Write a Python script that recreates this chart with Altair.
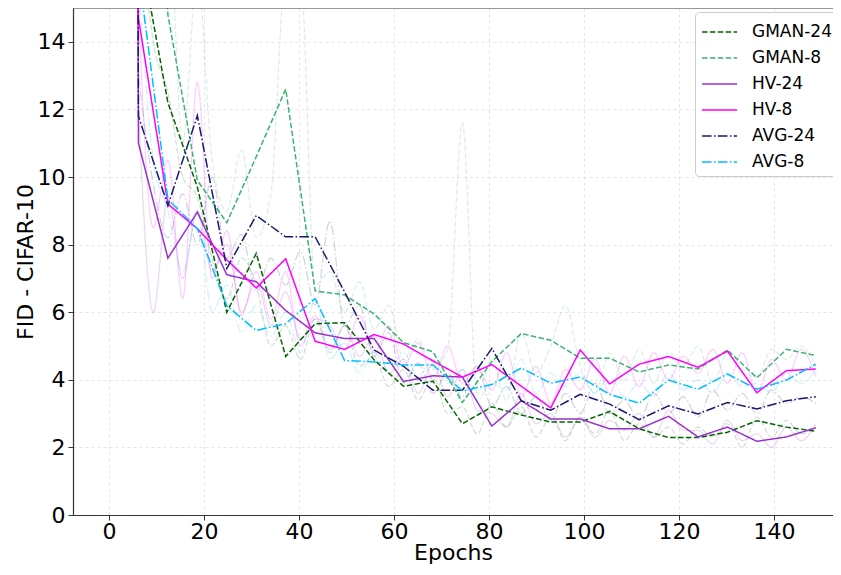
import altair as alt
import pandas as pd

# ---- main (sampled) curves ----
epochs = [0, 6.2, 12.4, 18.6, 24.8, 31.0, 37.2, 43.4, 49.6, 55.8, 62.0, 68.2,
          74.4, 80.6, 86.8, 93.0, 99.2, 105.4, 111.6, 117.8, 124.0, 130.2,
          136.4, 142.6, 148.8]

series_names = ["GMAN-24", "GMAN-8", "HV-24", "HV-8", "AVG-24", "AVG-8"]

gman24 = [250, 17.0, 12.2, 9.7, 6.0, 7.74, 4.69, 5.66, 5.69, 4.59, 3.81, 3.96,
          2.70, 3.20, 2.96, 2.75, 2.75, 3.06, 2.55, 2.29, 2.29, 2.45, 2.79, 2.60, 2.48]
gman8 = [250, 30.0, 14.8, 9.9, 8.65, 10.6, 12.6, 6.63, 6.51, 5.95, 5.1, 4.83,
         3.33, 4.54, 5.37, 5.17, 4.64, 4.64, 4.23, 4.44, 4.32, 4.88, 4.06, 4.90, 4.72]
hv24 = [250, 11.0, 7.6, 8.96, 7.11, 6.90, 6.05, 5.39, 5.22, 5.22, 3.95, 4.12,
        4.08, 2.63, 3.38, 2.84, 2.84, 2.55, 2.55, 2.92, 2.31, 2.60, 2.18, 2.31, 2.58]
hv8 = [250, 14.7, 9.2, 8.47, 7.55, 6.72, 7.58, 5.14, 4.90, 5.34, 5.06, 4.56,
       4.08, 4.45, 3.81, 3.17, 4.88, 3.88, 4.46, 4.69, 4.37, 4.85, 3.62, 4.27, 4.32]
avg24 = [250, 11.8, 9.15, 11.82, 7.3, 8.86, 8.23, 8.23, 6.6, 4.88, 4.40, 3.69,
         3.69, 4.93, 3.38, 3.10, 3.57, 3.28, 2.82, 3.23, 2.99, 3.33, 3.14, 3.38, 3.50]
avg8 = [250, 16.1, 9.34, 8.47, 6.19, 5.46, 5.66, 6.40, 4.57, 4.53, 4.44, 4.44,
        3.67, 3.86, 4.35, 3.90, 4.08, 3.57, 3.31, 3.99, 3.72, 4.17, 3.72, 3.99, 4.46]

# ---- faint (raw) curves ----
raw_epochs = [6.2, 9.3, 12.4, 15.5, 18.6, 21.7, 24.8, 27.9, 31.0, 34.1, 37.2, 40.3,
              43.4, 46.5, 49.6, 52.7, 55.8, 58.9, 62.0, 65.1, 68.2, 71.3, 74.4, 77.5,
              80.6, 83.7, 86.8, 89.9, 93.0, 96.1, 99.2, 102.3, 105.4, 108.5, 111.6,
              114.7, 117.8, 120.9, 124.0, 127.1, 130.2, 133.3, 136.4, 139.5, 142.6,
              145.7, 148.8]
raw_gman24 = [18, 14, 12.5, 10, 9.4, 7.6, 6.4, 7.6, 6.8, 5.0, 5.6, 4.6, 5.8, 4.8, 5.6,
              4.4, 4.7, 3.8, 4.3, 3.4, 4.1, 3.0, 3.2, 2.4, 3.3, 2.6, 3.2, 2.3, 2.9, 2.2,
              2.9, 2.4, 3.1, 2.2, 2.7, 2.3, 2.6, 2.1, 2.6, 2.3, 2.7, 2.0, 2.9, 2.3, 2.8,
              2.4, 2.6]
raw_gman8 = [20, 16, 18, 11, 16, 10.5, 9, 10.8, 8.2, 9.5, 16, 16, 6.8, 7.2, 6.0, 6.9,
             5.5, 6.2, 4.6, 5.2, 4.3, 4.9, 11.6, 3.6, 4.6, 3.4, 5.4, 4.2, 5.0, 6.2,
             4.4, 3.6, 4.8, 4.0, 4.9, 3.9, 4.8, 4.4, 5.0, 3.9, 4.8, 4.2, 4.1, 4.9, 4.6,
             5.0, 4.4]
raw_hv24 = [12, 6.0, 9.4, 7.0, 9.0, 7.2, 8.0, 6.0, 6.9, 5.6, 6.6, 5.2, 5.9, 4.9, 5.6,
            4.7, 5.3, 4.2, 4.6, 3.6, 4.5, 3.5, 4.3, 3.1, 3.0, 2.6, 3.6, 2.7, 3.0, 2.3,
            2.9, 2.3, 2.8, 2.5, 3.0, 2.3, 3.1, 2.5, 2.5, 2.1, 2.8, 2.2, 2.4, 2.0, 2.6,
            2.2, 2.7]
raw_hv8 = [15, 8.5, 10.5, 6.4, 12.8, 7.0, 8.4, 5.9, 7.2, 5.8, 7.2, 5.0, 5.8, 5.6, 4.9,
           5.9, 4.8, 5.6, 4.4, 5.1, 4.0, 5.0, 3.9, 4.4, 3.7, 4.8, 3.5, 4.4, 3.3, 4.3,
           3.7, 4.6, 3.6, 4.7, 3.8, 4.8, 4.0, 4.7, 4.2, 4.9, 3.9, 4.8, 3.6, 4.6, 4.0,
           4.9, 4.1]
raw_avg24 = [13, 9.8, 8.2, 9.5, 8.0, 10.0, 7.6, 8.3, 6.6, 7.6, 6.8, 7.8, 6.2, 8.7, 5.6,
             6.2, 4.7, 5.4, 3.9, 4.5, 3.6, 4.2, 3.5, 4.4, 3.2, 3.8, 3.0, 3.5, 2.8, 3.6,
             3.0, 3.9, 3.0, 3.4, 2.8, 3.6, 3.0, 3.5, 2.9, 3.7, 3.1, 3.6, 3.0, 3.7, 3.3,
             3.5, 3.3]
raw_avg8 = [16, 10.5, 9.0, 7.2, 9.0, 6.0, 6.8, 5.4, 6.2, 5.3, 6.0, 4.8, 6.4, 4.6, 5.1,
            4.2, 4.8, 4.3, 4.8, 4.1, 4.6, 3.9, 4.3, 3.4, 3.9, 3.7, 4.6, 3.6, 4.2, 3.8,
            4.2, 3.6, 4.1, 3.5, 3.9, 3.5, 4.2, 3.7, 4.0, 3.6, 4.2, 3.8, 3.9, 3.6, 4.2,
            3.9, 4.3]

x_ticks = [0, 20, 40, 60, 80, 100, 120, 140]
y_ticks = [0, 2, 4, 6, 8, 10, 12, 14]

colors = ["#006400", "#3cb371", "#9932cc", "#ff00ff", "#191970", "#00bfff"]
dashes = [[5.5, 2.4], [5.5, 2.4], [1, 0], [1, 0], [9.6, 2.4, 1.5, 2.4], [9.6, 2.4, 1.5, 2.4]]

main_vals = [gman24, gman8, hv24, hv8, avg24, avg8]
raw_vals = [raw_gman24, raw_gman8, raw_hv24, raw_hv8, raw_avg24, raw_avg8]

rows = []
for name, vals in zip(series_names, main_vals):
    for e, v in zip(epochs, vals):
        rows.append({"series": name, "epoch": e, "fid": v})
df = pd.DataFrame(rows)

raw_rows = []
for name, vals in zip(series_names, raw_vals):
    for e, v in zip(raw_epochs, vals):
        raw_rows.append({"series": name, "epoch": e, "fid": v})
raw_df = pd.DataFrame(raw_rows)

FONT = "DejaVu Sans"
W, H = 760, 507

x_scale = alt.Scale(domain=[-7.58, 152.42], nice=False, zero=False)
y_scale = alt.Scale(domain=[0, 15], nice=False, zero=False)
color_scale = alt.Scale(domain=series_names, range=colors)
dash_scale = alt.Scale(domain=series_names, range=dashes)

legend = alt.Legend(
    title=None, orient="none", legendX=622, legendY=4,
    labelFont=FONT, labelFontSize=17, labelColor="#000000",
    symbolType="M-1,0L1.7,0", symbolSize=676, symbolStrokeWidth=1.5, symbolOpacity=1,
    labelOffset=23, rowPadding=4, padding=6,
    strokeColor="#cccccc", fillColor="rgba(255,255,255,0.85)", cornerRadius=4,
)

x_enc = alt.X("epoch:Q", scale=x_scale,
              axis=alt.Axis(values=x_ticks, title="Epochs", format="d"))
y_enc = alt.Y("fid:Q", scale=y_scale,
              axis=alt.Axis(values=y_ticks, title="FID - CIFAR-10", format="d"))

faint = alt.Chart(raw_df).mark_line(strokeWidth=1.2, strokeOpacity=0.2, clip=True,
                                    interpolate="monotone").encode(
    x=x_enc, y=y_enc,
    color=alt.Color("series:N", scale=color_scale, legend=legend),
    strokeDash=alt.StrokeDash("series:N", scale=dash_scale, legend=legend),
    order=alt.Order("epoch:Q"),
)

lines = alt.Chart(df).mark_line(strokeWidth=1.5, clip=True).encode(
    x=x_enc, y=y_enc,
    color=alt.Color("series:N", scale=color_scale, legend=legend),
    strokeDash=alt.StrokeDash("series:N", scale=dash_scale, legend=legend),
    order=alt.Order("epoch:Q"),
)

top_spine = alt.Chart(pd.DataFrame({"k": [0]})).mark_rule(color="#333333", strokeWidth=1.2).encode(
    x=alt.value(0), x2=alt.value(W), y=alt.value(0)
)

chart = alt.layer(faint, lines, top_spine).properties(
    width=W, height=H,
    padding={"left": 65, "top": 0, "right": 0, "bottom": 52},
    autosize=alt.AutoSizeParams(type="none"),
).configure_view(stroke=None).configure_axis(
    labelFont=FONT, labelFontSize=22, labelColor="#000000",
    titleFont=FONT, titleFontSize=22, titleFontWeight="normal", titleColor="#000000",
    domainColor="#333333", domainWidth=1.2, tickColor="#333333", tickSize=5, tickWidth=1,
    gridColor="#dddddd", gridDash=[3, 3], gridWidth=0.8,
).configure_axisX(labelPadding=1, titlePadding=0).configure_axisY(labelPadding=3, titlePadding=0)

chart.save("out.html", embed_options={"renderer": "svg", "actions": False})
